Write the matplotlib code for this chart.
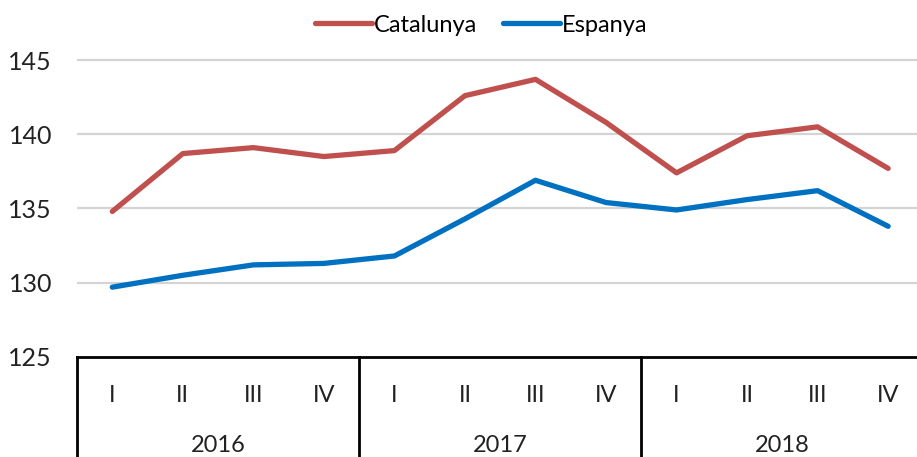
import matplotlib.pyplot as plt
import matplotlib.transforms as mtransforms

plt.rcParams["font.family"] = ["Lato", "DejaVu Sans"]

# data
quarters = ["I", "II", "III", "IV"] * 3
years = ["2016", "2017", "2018"]
catalunya = [134.8, 138.7, 139.1, 138.5, 138.9, 142.6, 143.7, 140.8,
             137.4, 139.9, 140.5, 137.7]
espanya = [129.7, 130.5, 131.2, 131.3, 131.8, 134.3, 136.9, 135.4,
           134.9, 135.6, 136.2, 133.8]

red = "#C0504D"
blue = "#0070C0"

fig = plt.figure(figsize=(9.17, 4.57), dpi=100)
ax = fig.add_axes([0.084, 0.219, 0.923, 0.812])

xx = list(range(len(quarters)))
ax.plot(xx, catalunya, color=red, lw=3.8, label="Catalunya", solid_capstyle="round")
ax.plot(xx, espanya, color=blue, lw=3.8, label="Espanya", solid_capstyle="round")

ax.set_xlim(-0.5, len(quarters) - 0.5)
ax.set_ylim(125, 150)
ax.set_yticks([125, 130, 135, 140, 145])
for y in [130, 135, 140, 145]:
    ax.axhline(y, color="#D4D4D4", lw=1.6, zorder=0)

for s in ["top", "right", "left"]:
    ax.spines[s].set_visible(False)
ax.spines["bottom"].set_color("black")
ax.spines["bottom"].set_linewidth(2.0)

ax.tick_params(axis="y", length=0, pad=18, labelsize=18, colors="#222222")
ax.set_xticks(xx)
ax.set_xticklabels(quarters)
ax.tick_params(axis="x", length=0, pad=20, labelsize=17, colors="#222222")

# group box below the axis
trans = mtransforms.blended_transform_factory(ax.transData, ax.transAxes)
for b in [-0.5, 3.5, 7.5, 11.5]:
    ax.plot([b, b], [0, -0.3], color="black", lw=2.0, transform=trans,
            clip_on=False)
for i, yr in enumerate(years):
    ax.text(i * 4 + 1.5, -0.24, yr, transform=trans, ha="center",
            va="center", fontsize=17, color="#222222")

fig.legend(loc="center", bbox_to_anchor=(0.525, 0.945), ncol=2, frameon=False,
           fontsize=17, handlelength=2.4, handletextpad=0.1, columnspacing=1.1)

fig.savefig("out.png", dpi=100)
